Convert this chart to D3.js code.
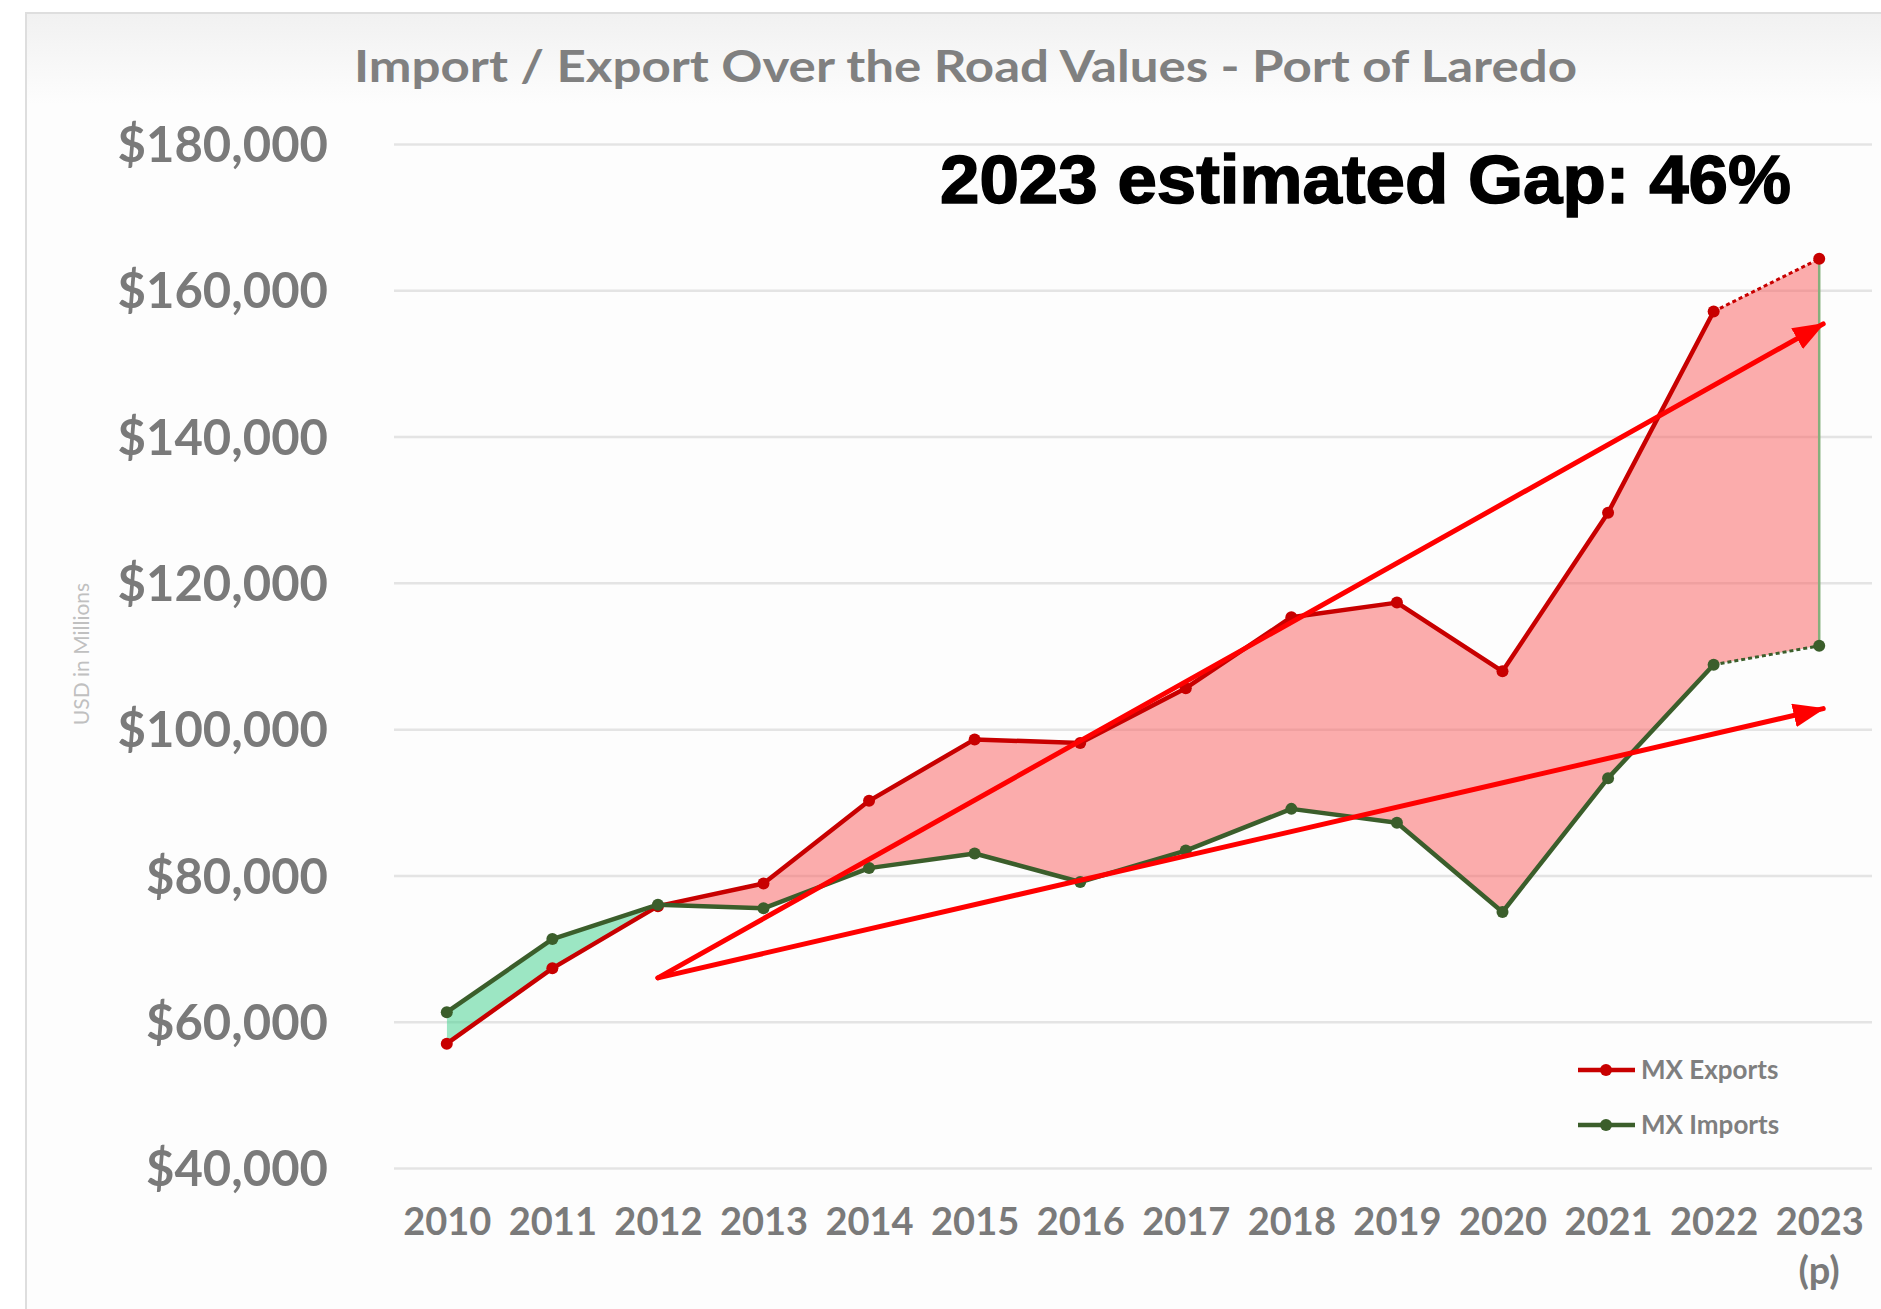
<!DOCTYPE html>
<html>
<head>
<meta charset="utf-8">
<script src="https://cdn.jsdelivr.net/npm/d3@7"></script>
<style>
  body { margin: 0; background: #fff; }
  svg { display: block; }
</style>
</head>
<body>
<svg id="chart" width="1881" height="1309"></svg>
<script>
// chart values (USD millions)
var years = ["2010", "2011", "2012", "2013", "2014", "2015", "2016",
             "2017", "2018", "2019", "2020", "2021", "2022", "2023"];
var mxExports = [57000, 67300, 75800, 78900, 90200, 98600, 98100,
                 105600, 115300, 117300, 107900, 129600, 157100, 164300];
var mxImports = [61300, 71300, 76000, 75500, 81000, 83000, 79100,
                 83400, 89100, 87200, 75000, 93300, 108800, 111400];
var yTicks = [40000, 60000, 80000, 100000, 120000, 140000, 160000, 180000];

// trend arrows drawn over the chart: start point and the two end points
var trendStart = {year: "2012", value: 66000};
var trendEnds = [{year: "2023", value: 155400}, {year: "2023", value: 102800}];

var titleText = "Import / Export Over the Road Values - Port of Laredo";
var gapText = "2023 estimated Gap: 46%";

var svg = d3.select("#chart");

var x = d3.scalePoint().domain(years).range([394, 1872]).padding(0.5);
var y = d3.scaleLinear().domain([40000, 180000]).range([1168, 144]);

var rows = years.map(function (yr, i) {
    return {year: yr, exp: mxExports[i], imp: mxImports[i]};
});

/* frame and header shading */
var defs = svg.append("defs");
var grad = defs.append("linearGradient").attr("id", "hdr")
    .attr("x1", 0).attr("y1", 0).attr("x2", 0).attr("y2", 1);
grad.append("stop").attr("offset", 0).attr("stop-color", "#f1f1f1");
grad.append("stop").attr("offset", 1).attr("stop-color", "#fdfdfd");

svg.append("rect").attr("x", 26).attr("y", 13).attr("width", 1900).attr("height", 1400)
    .attr("fill", "#fdfdfd").attr("stroke", "#dedede").attr("stroke-width", 2);
svg.append("rect").attr("x", 27).attr("y", 14).attr("width", 1900).attr("height", 90)
    .attr("fill", "url(#hdr)");

/* title */
svg.append("text")
    .attr("x", 354).attr("y", 82)
    .attr("textLength", 1223).attr("lengthAdjust", "spacingAndGlyphs")
    .style("font-family", "Lato, 'Open Sans', sans-serif")
    .style("font-weight", "bold").style("font-size", "44px")
    .style("fill", "#808080")
    .text(titleText);

/* y axis with gridlines */
var yAxis = svg.append("g")
    .attr("transform", "translate(394,0)")
    .call(d3.axisLeft(y).tickValues(yTicks).tickFormat(d3.format("$,"))
        .tickSize(-(1872 - 394)).tickPadding(66));
yAxis.select(".domain").remove();
yAxis.selectAll("line").attr("stroke", "#e4e4e4").attr("stroke-width", 2.5);
yAxis.selectAll("text")
    .attr("dy", "0.36em")
    .style("font-family", "Lato, sans-serif").style("font-weight", "bold")
    .style("font-size", "49px").style("fill", "#7a7a7a");

svg.append("text")
    .attr("transform", "translate(89,654) rotate(-90)")
    .attr("text-anchor", "middle")
    .style("font-family", "Lato, sans-serif").style("font-size", "21px")
    .style("fill", "#c0c0c0")
    .text("USD in Millions");

/* x axis labels */
var xAxis = svg.append("g")
    .attr("transform", "translate(0,1168)")
    .call(d3.axisBottom(x).tickSize(0).tickPadding(40));
xAxis.select(".domain").remove();
xAxis.selectAll("text")
    .attr("dy", "0.71em")
    .style("font-family", "Lato, sans-serif").style("font-weight", "bold")
    .style("font-size", "38px").style("fill", "#7a7a7a");
svg.append("text")
    .attr("x", x("2023")).attr("y", 1284)
    .attr("text-anchor", "middle")
    .style("font-family", "Lato, sans-serif").style("font-weight", "bold")
    .style("font-size", "38px").style("fill", "#7a7a7a")
    .text("(p)");

/* gap fills between the two series (difference chart clipping) */
var top0 = y.range()[1] - 200, bottom0 = y.range()[0] + 200;
defs.append("clipPath").attr("id", "aboveImp").append("path")
    .attr("d", d3.area().x(function (d) { return x(d.year); })
        .y0(top0).y1(function (d) { return y(d.imp); })(rows));
defs.append("clipPath").attr("id", "belowImp").append("path")
    .attr("d", d3.area().x(function (d) { return x(d.year); })
        .y0(bottom0).y1(function (d) { return y(d.imp); })(rows));

var between = d3.area()
    .x(function (d) { return x(d.year); })
    .y0(function (d) { return y(d.imp); })
    .y1(function (d) { return y(d.exp); });

svg.append("path").datum(rows)
    .attr("clip-path", "url(#aboveImp)")
    .attr("d", between).attr("fill", "#fa5c5c").attr("fill-opacity", 0.5);
svg.append("path").datum(rows)
    .attr("clip-path", "url(#belowImp)")
    .attr("d", between).attr("fill", "#3ccf8a").attr("fill-opacity", 0.5);

// drop line at the projected year
var last = rows[rows.length - 1];
svg.append("line")
    .attr("x1", x(last.year)).attr("x2", x(last.year))
    .attr("y1", y(last.imp)).attr("y2", y(last.exp))
    .attr("stroke", "#84b07c").attr("stroke-width", 2.5);

/* series lines: solid up to 2022, dashed to the projected 2023 */
var series = [
    {name: "MX Exports", key: "exp", color: "#c80000"},
    {name: "MX Imports", key: "imp", color: "#3b5e2b"}
];
var solidRows = rows.slice(0, rows.length - 1);
var projRows = rows.slice(rows.length - 2);

series.forEach(function (s) {
    var line = d3.line()
        .x(function (d) { return x(d.year); })
        .y(function (d) { return y(d[s.key]); });
    svg.append("path").datum(solidRows)
        .attr("d", line).attr("fill", "none")
        .attr("stroke", s.color).attr("stroke-width", 4.5)
        .attr("stroke-linejoin", "round");
    svg.append("path").datum(projRows)
        .attr("d", line).attr("fill", "none")
        .attr("stroke", s.color).attr("stroke-width", 3)
        .attr("stroke-dasharray", "4,3");
    svg.append("g").selectAll("circle").data(rows).enter().append("circle")
        .attr("cx", function (d) { return x(d.year); })
        .attr("cy", function (d) { return y(d[s.key]); })
        .attr("r", 6).attr("fill", s.color);
});

/* red trend arrows */
defs.append("marker").attr("id", "arrowHead")
    .attr("markerUnits", "userSpaceOnUse")
    .attr("viewBox", "0 0 32 24").attr("refX", 30).attr("refY", 12)
    .attr("markerWidth", 32).attr("markerHeight", 24)
    .attr("orient", "auto")
    .append("path").attr("d", "M0,0 L32,12 L0,24 Z").attr("fill", "#ff0000");

trendEnds.forEach(function (e) {
    svg.append("line")
        .attr("x1", x(trendStart.year)).attr("y1", y(trendStart.value))
        .attr("x2", x(e.year) + 4).attr("y2", y(e.value))
        .attr("stroke", "#ff0000").attr("stroke-width", 5)
        .attr("stroke-linecap", "round")
        .attr("marker-end", "url(#arrowHead)");
});

/* annotation */
svg.append("text")
    .attr("x", 940).attr("y", 203)
    .attr("textLength", 851).attr("lengthAdjust", "spacingAndGlyphs")
    .style("font-family", "'Liberation Sans', Arial, sans-serif")
    .style("font-weight", "bold").style("font-size", "68px")
    .style("fill", "#000").style("stroke", "#000").style("stroke-width", 1.5)
    .text(gapText);

/* legend */
var legend = svg.append("g");
series.forEach(function (s, i) {
    var ly = 1070 + i * 55;
    legend.append("line").attr("x1", 1578).attr("x2", 1635)
        .attr("y1", ly).attr("y2", ly)
        .attr("stroke", s.color).attr("stroke-width", 4.5);
    legend.append("circle").attr("cx", 1606).attr("cy", ly).attr("r", 6)
        .attr("fill", s.color);
    legend.append("text").attr("x", 1641).attr("y", ly).attr("dy", "0.36em")
        .style("font-family", "Lato, sans-serif").style("font-weight", "bold")
        .style("font-size", "26px").style("fill", "#7f7f7f")
        .text(s.name);
});
</script>
</body>
</html>
